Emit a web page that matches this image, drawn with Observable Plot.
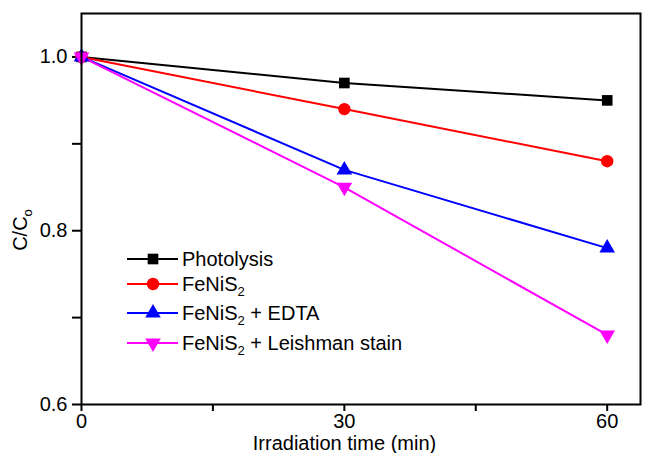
<!DOCTYPE html>
<html>
<head>
<meta charset="utf-8">
<script src="https://cdn.jsdelivr.net/npm/d3@7"></script>
<script src="https://cdn.jsdelivr.net/npm/@observablehq/plot@0.6"></script>
<style>
  body { margin: 0; background: white; }
  #wrap { position: relative; width: 652px; height: 453px; font-family: "Liberation Sans", Arial, sans-serif; color: black; }
  .lbl { position: absolute; font-size: 20px; white-space: nowrap; line-height: 1; }
  .lbl sub { font-size: 13px; vertical-align: -5px; line-height: 0; }
  #legend { position: absolute; left: 126px; top: 0; }
  .row { position: absolute; left: 0; height: 20px; width: 320px; }
  .row svg { position: absolute; left: 0; top: 0; }
  .row span { position: absolute; left: 56px; top: 0px; font-size: 20px; line-height: 1; white-space: nowrap; }
  .row span sub { font-size: 13px; vertical-align: -5px; line-height: 0; }
</style>
</head>
<body>
<div id="wrap"></div>
<script>
const times = [0, 30, 60];
const photolysis = [1.0, 0.97, 0.95];
const fenis2 = [1.0, 0.94, 0.88];
const fenis2Edta = [1.0, 0.87, 0.78];
const fenis2Leishman = [1.0, 0.85, 0.68];
const seriesNames = ["Photolysis", "FeNiS2", "FeNiS2 + EDTA", "FeNiS2 + Leishman stain"];
const seriesLabelsHtml = ["Photolysis", "FeNiS<sub>2</sub>", "FeNiS<sub>2</sub> + EDTA", "FeNiS<sub>2</sub> + Leishman stain"];
const seriesColors = ["#000000", "#ff0000", "#0000ff", "#ff00ff"];
const xTicks = [0, 15, 30, 45, 60];
const xTickLabels = ["0", "", "30", "", "60"];
const yTicks = [0.6, 0.7, 0.8, 0.9, 1.0];
const yTickLabels = ["0.6", "", "0.8", "", "1.0"];

const triangleDown = {
  draw(context, size) {
    const s3 = Math.sqrt(3);
    const y = -Math.sqrt(size / (s3 * 3));
    context.moveTo(0, -y * 2);
    context.lineTo(-s3 * y, y);
    context.lineTo(s3 * y, y);
    context.closePath();
  }
};
const symbols = ["square", "circle", "triangle", triangleDown];
const radii = [6, 6.2, 5.8, 5.8];
const allValues = [photolysis, fenis2, fenis2Edta, fenis2Leishman];

const rows = [];
allValues.forEach((vals, i) => vals.forEach((v, j) => rows.push({series: seriesNames[i], idx: i, t: times[j], c: v})));

const marks = [];
allValues.forEach((vals, i) => {
  const d = rows.filter(r => r.idx === i);
  marks.push(Plot.line(d, {x: "t", y: "c", stroke: seriesColors[i], strokeWidth: 2}));
});
allValues.forEach((vals, i) => {
  const d = rows.filter(r => r.idx === i);
  marks.push(Plot.dot(d, {x: "t", y: "c", symbol: () => symbols[i], r: radii[i], fill: seriesColors[i], stroke: "none"}));
});

const chart = Plot.plot({
  width: 652,
  height: 453,
  marginLeft: 81,
  marginRight: 12,
  marginTop: 13,
  marginBottom: 49,
  style: {fontFamily: "'Liberation Sans', Arial, sans-serif", fontSize: "20px", color: "black", background: "white", overflow: "visible"},
  x: {domain: [0, 63.8]},
  y: {domain: [0.6, 1.05]},
  symbol: {type: "identity"},
  marks: [
    Plot.axisX({ticks: xTicks, tickFormat: d => xTickLabels[xTicks.indexOf(d)], tickSize: 7, tickPadding: 2, strokeWidth: 2, label: null, fontSize: 20}),
    Plot.axisY({ticks: yTicks, tickFormat: d => yTickLabels[yTicks.findIndex(t => Math.abs(t - d) < 1e-9)], tickSize: 9, tickPadding: 5, strokeWidth: 2, label: null, fontSize: 20}),
    ...marks,
    Plot.frame({stroke: "black", strokeWidth: 2})
  ]
});

const wrap = document.getElementById("wrap");
wrap.appendChild(chart);

const xl = document.createElement("div");
xl.className = "lbl";
xl.style.left = "0px"; xl.style.width = "689px"; xl.style.textAlign = "center"; xl.style.top = "433px";
xl.textContent = "Irradiation time (min)";
wrap.appendChild(xl);

const yl = document.createElement("div");
yl.className = "lbl";
yl.innerHTML = "C/C<sub>o</sub>";
yl.style.left = "20px"; yl.style.top = "230px";
yl.style.transform = "translate(-50%, -50%) rotate(-90deg)";
wrap.appendChild(yl);

const legend = document.createElement("div");
legend.id = "legend";
const rowCenters = [259, 284, 313, 343];
seriesNames.forEach((name, i) => {
  const row = document.createElement("div");
  row.className = "row";
  row.style.top = (rowCenters[i] - 10) + "px";
  const svg = d3.create("svg").attr("width", 56).attr("height", 20);
  svg.append("line").attr("x1", 1).attr("x2", 52).attr("y1", 10).attr("y2", 10).attr("stroke", seriesColors[i]).attr("stroke-width", 2);
  const sym = typeof symbols[i] === "string" ? {square: d3.symbolSquare, circle: d3.symbolCircle, triangle: d3.symbolTriangle}[symbols[i]] : symbols[i];
  svg.append("path").attr("transform", "translate(27,10)").attr("d", d3.symbol(sym, radii[i] * radii[i] * Math.PI)()).attr("fill", seriesColors[i]);
  row.appendChild(svg.node());
  const span = document.createElement("span");
  span.innerHTML = seriesLabelsHtml[i];
  row.appendChild(span);
  legend.appendChild(row);
});
wrap.appendChild(legend);
</script>
</body>
</html>
